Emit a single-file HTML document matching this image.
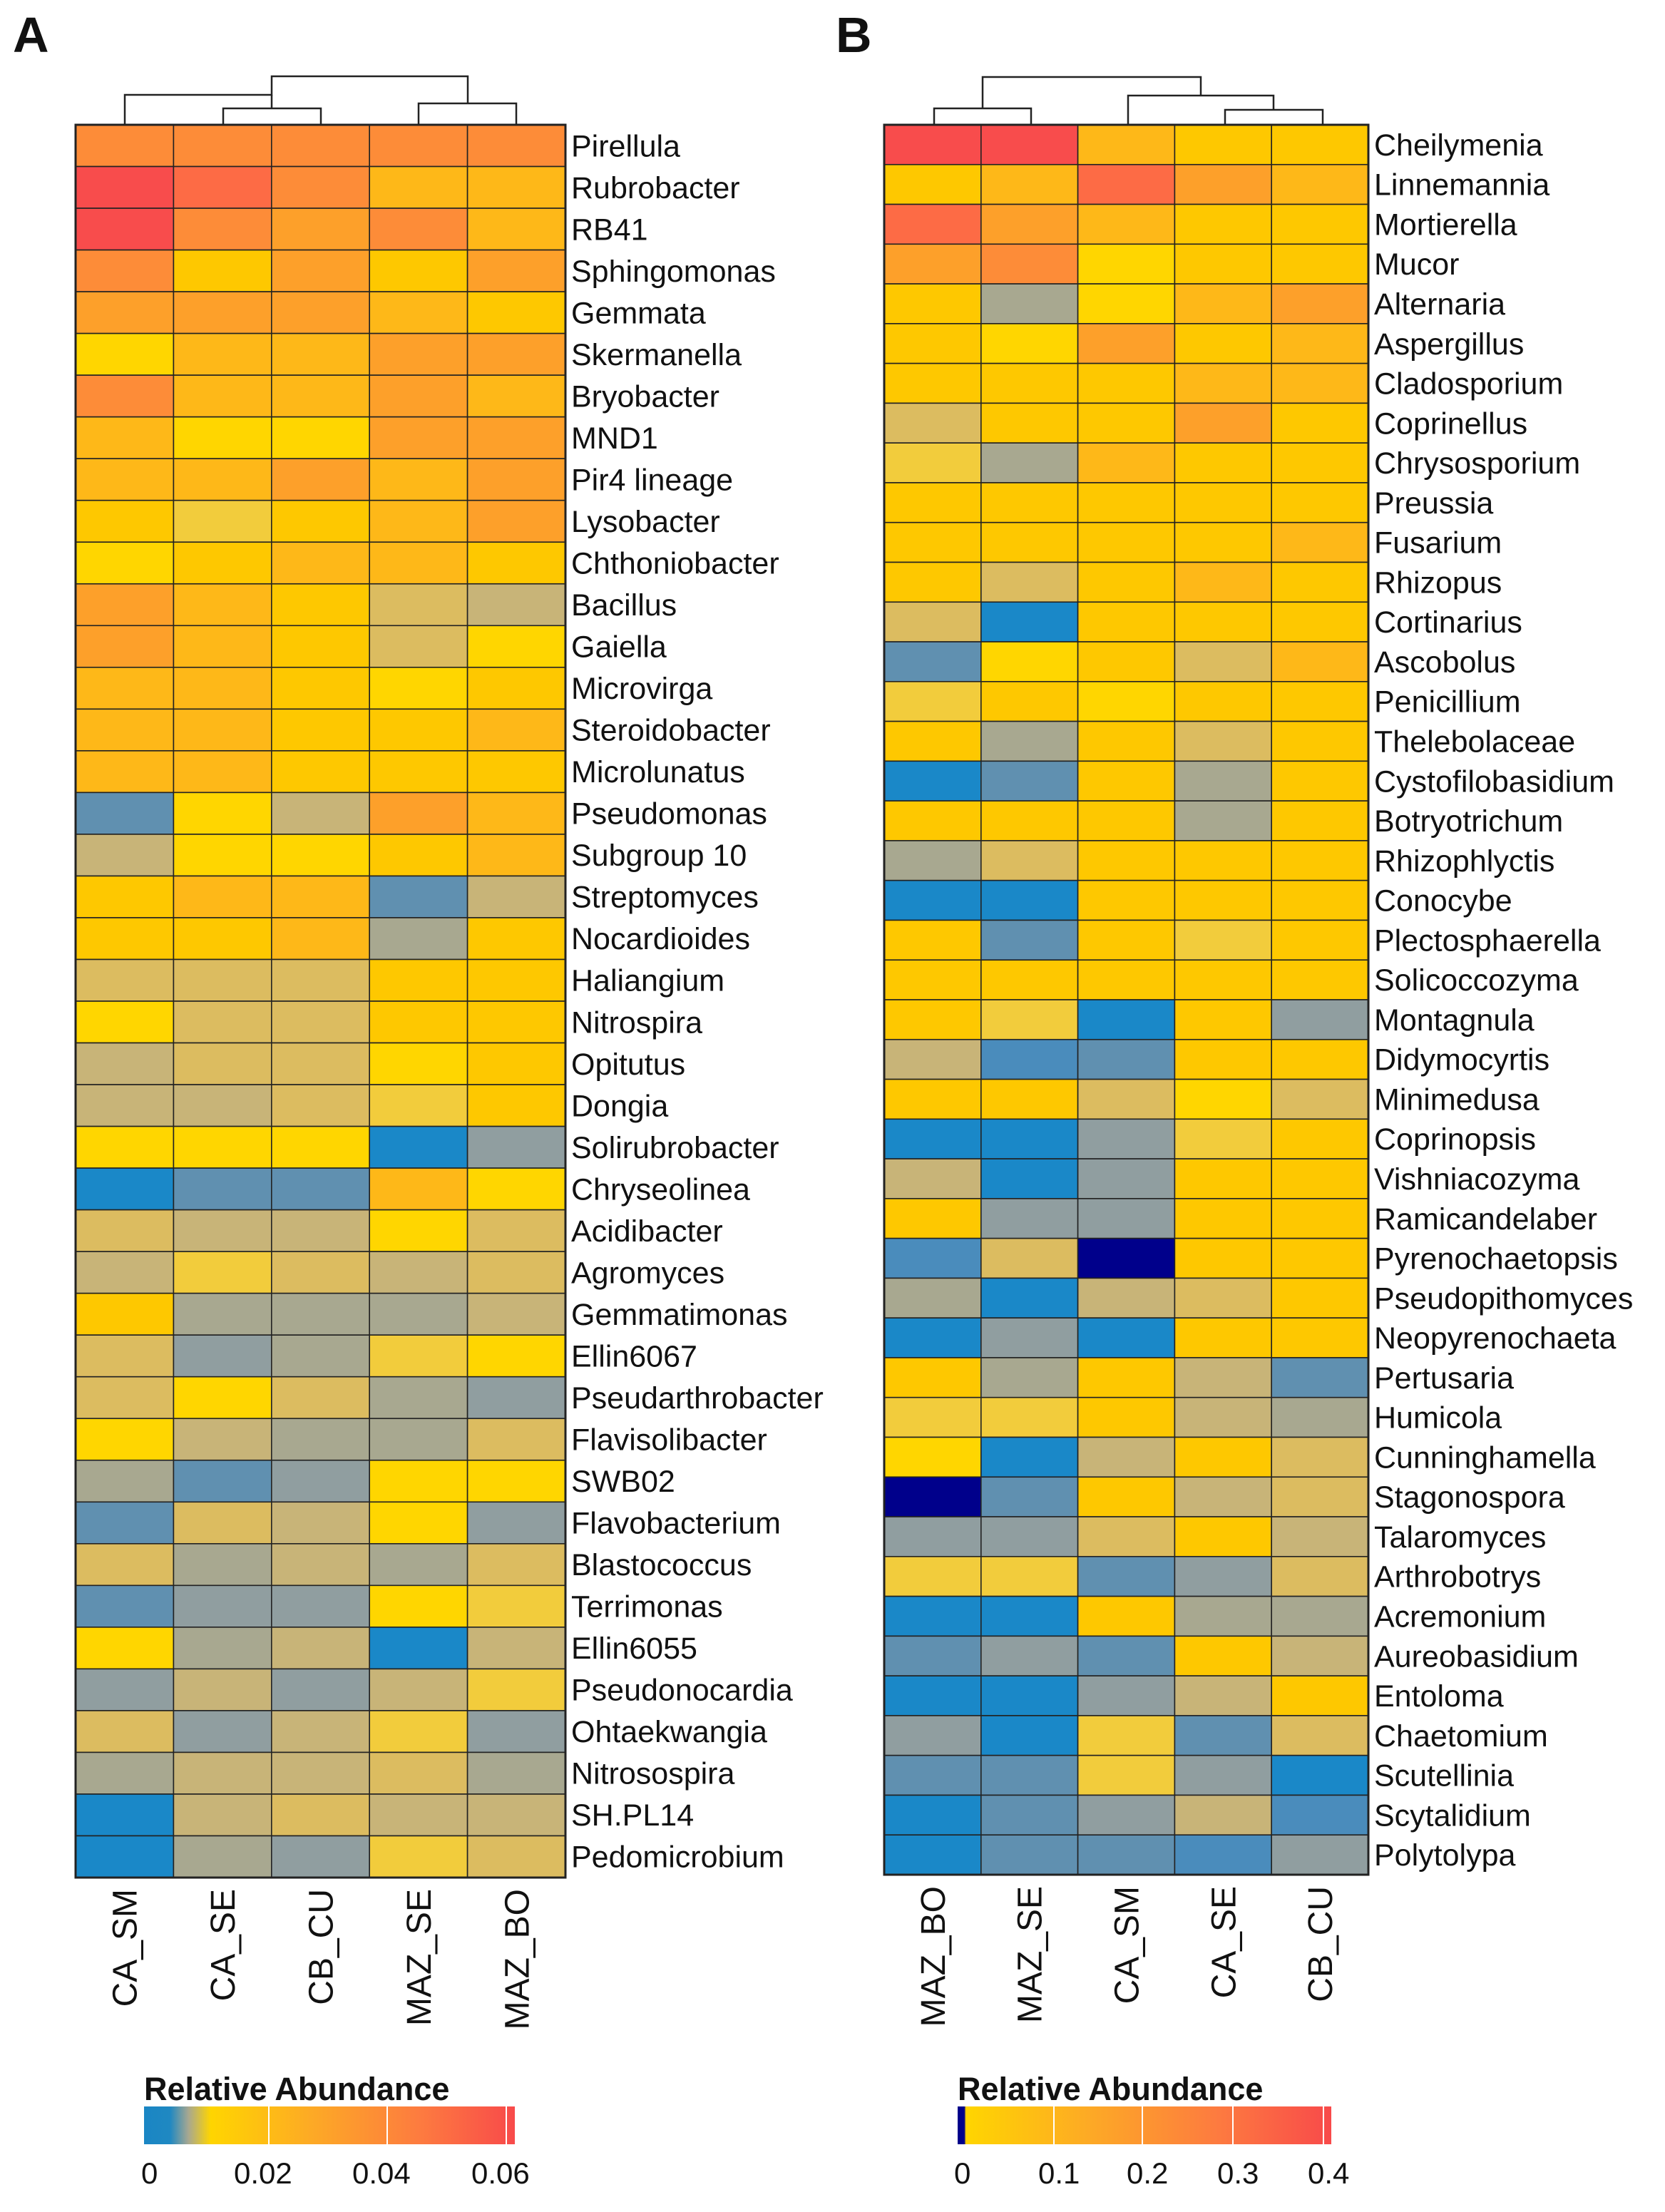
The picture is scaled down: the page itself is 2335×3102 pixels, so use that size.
<!DOCTYPE html>
<html><head><meta charset="utf-8"><style>
html,body{margin:0;padding:0;background:#fff;}
svg{display:block;}
text{font-family:"Liberation Sans",sans-serif;fill:#111;}
</style></head><body>
<svg id="s" width="2335" height="3102" xmlns="http://www.w3.org/2000/svg">
<defs>
<linearGradient id="gA" x1="0" x2="1" y1="0" y2="0">
<stop offset="0" stop-color="#1a86c4"/><stop offset="0.07" stop-color="#1f88c2"/>
<stop offset="0.12" stop-color="#a8a890"/><stop offset="0.18" stop-color="#ffd500"/>
<stop offset="0.45" stop-color="#fdaa25"/><stop offset="0.75" stop-color="#fd7a40"/>
<stop offset="1" stop-color="#f84a4a"/></linearGradient>
<linearGradient id="gB" x1="0" x2="1" y1="0" y2="0">
<stop offset="0" stop-color="#00008b"/><stop offset="0.018" stop-color="#00008b"/>
<stop offset="0.022" stop-color="#ffd500"/><stop offset="0.35" stop-color="#fdaa25"/>
<stop offset="0.7" stop-color="#fd7a40"/><stop offset="1" stop-color="#f84a4a"/></linearGradient>
</defs>
<text x="18" y="73" font-size="70" font-weight="bold">A</text>
<text x="1172" y="73" font-size="70" font-weight="bold">B</text>
<g fill="none" stroke="#222" stroke-width="2.5">
<path d="M175 175V133H381V107H656V145"/><path d="M313 175V152H450V175"/><path d="M381 133V152"/>
<path d="M587 175V145H724V175"/>
<path d="M1310 175V152H1446V175"/><path d="M1378 152V108H1684V134"/>
<path d="M1582 175V134H1786V154"/><path d="M1718 175V154H1855V175"/>
</g>
<g id="cells"></g>
<text x="202" y="2945" font-size="45" font-weight="bold">Relative Abundance</text>
<rect x="202" y="2954" width="520" height="53" fill="url(#gA)"/>
<g stroke="#fff" stroke-width="2"><path d="M377 2954v53M543 2954v53M710 2954v53"/></g>
<g font-size="42"><text x="198" y="3062">0</text><text x="328" y="3062">0.02</text><text x="494" y="3062">0.04</text><text x="661" y="3062">0.06</text></g>
<text x="1343" y="2945" font-size="45" font-weight="bold">Relative Abundance</text>
<rect x="1343" y="2954" width="524" height="53" fill="url(#gB)"/>
<g stroke="#fff" stroke-width="2"><path d="M1478 2954v53M1602 2954v53M1729 2954v53M1856 2954v53"/></g>
<g font-size="42"><text x="1338" y="3062">0</text><text x="1456" y="3062">0.1</text><text x="1580" y="3062">0.2</text><text x="1707" y="3062">0.3</text><text x="1834" y="3062">0.4</text></g>
</svg>
<script>
var C={R:"#f84c4c",r:"#fd6b45",O:"#fd8c38",o:"#fda02a",A:"#feb818",Y:"#fec800",y:"#ffd600",t:"#f2cc3c",T:"#dcbc60",K:"#c8b478",G:"#a8a890",g:"#909ea0",S:"#6090b0",s:"#4a8cbc",B:"#1a88c8",N:"#00008b"};
var A=[["Pirellula","OOOOO"],["Rubrobacter","RrOAA"],["RB41","ROoOA"],["Sphingomonas","OYoYo"],["Gemmata","oooAY"],["Skermanella","yAAoo"],["Bryobacter","OAAoA"],["MND1","Ayyoo"],["Pir4 lineage","AAoAo"],["Lysobacter","YtYAo"],["Chthoniobacter","yYAAY"],["Bacillus","oAYTK"],["Gaiella","oAYTy"],["Microvirga","AAYyY"],["Steroidobacter","AAYYA"],["Microlunatus","AAYYY"],["Pseudomonas","SyKoA"],["Subgroup 10","KyyYA"],["Streptomyces","YAASK"],["Nocardioides","YYAGY"],["Haliangium","TTTYY"],["Nitrospira","yTTYY"],["Opitutus","KTTyY"],["Dongia","KKTtY"],["Solirubrobacter","yyyBg"],["Chryseolinea","BSSAy"],["Acidibacter","TKKyT"],["Agromyces","KtTKT"],["Gemmatimonas","YGGGK"],["Ellin6067","TgGty"],["Pseudarthrobacter","TyTGg"],["Flavisolibacter","yKGGT"],["SWB02","GSgyy"],["Flavobacterium","STKyg"],["Blastococcus","TGKGT"],["Terrimonas","Sggyt"],["Ellin6055","yGKBK"],["Pseudonocardia","gKgKt"],["Ohtaekwangia","TgKtg"],["Nitrosospira","GKKTG"],["SH.PL14","BKTKK"],["Pedomicrobium","BGgtT"]];
var B=[["Cheilymenia","RRAYY"],["Linnemannia","YAroA"],["Mortierella","roAYY"],["Mucor","oOyYY"],["Alternaria","YGyAo"],["Aspergillus","YyoYA"],["Cladosporium","YYYAA"],["Coprinellus","TYYoY"],["Chrysosporium","tGAYY"],["Preussia","YYYYY"],["Fusarium","YYYYA"],["Rhizopus","YTYAY"],["Cortinarius","TBYYY"],["Ascobolus","SyYTA"],["Penicillium","tYyYY"],["Thelebolaceae","YGYTY"],["Cystofilobasidium","BSYGY"],["Botryotrichum","YYYGY"],["Rhizophlyctis","GTYYY"],["Conocybe","BBYYY"],["Plectosphaerella","YSYtY"],["Solicoccozyma","YYYYY"],["Montagnula","YtBYg"],["Didymocyrtis","KsSYY"],["Minimedusa","YYTyT"],["Coprinopsis","BBgtY"],["Vishniacozyma","KBgYY"],["Ramicandelaber","YggYY"],["Pyrenochaetopsis","sTNYY"],["Pseudopithomyces","GBKTY"],["Neopyrenochaeta","BgBYY"],["Pertusaria","YGYKS"],["Humicola","ttYKG"],["Cunninghamella","yBKYT"],["Stagonospora","NSYKT"],["Talaromyces","ggTYK"],["Arthrobotrys","ttSgT"],["Acremonium","BBYGG"],["Aureobasidium","SgSYK"],["Entoloma","BBgKY"],["Chaetomium","gBtST"],["Scutellinia","SStgB"],["Scytalidium","BSgKs"],["Polytolypa","BSSsg"]];
var NS="http://www.w3.org/2000/svg",g=document.getElementById("cells");
function el(t,a,txt){var e=document.createElementNS(NS,t);for(var k in a)e.setAttribute(k,a[k]);if(txt)e.textContent=txt;g.appendChild(e);}
function panel(d,x0,x1,y0,y1,cols){var n=d.length,cw=(x1-x0)/5,rh=(y1-y0)/n;
d.forEach(function(r,i){for(var j=0;j<5;j++)el("rect",{x:x0+j*cw,y:y0+i*rh,width:cw,height:rh,fill:C[r[1][j]],stroke:"#222","stroke-width":1.6});
el("text",{x:x1+8,y:y0+i*rh+rh/2+15,"font-size":43},r[0]);});
el("rect",{x:x0,y:y0,width:x1-x0,height:y1-y0,fill:"none",stroke:"#222","stroke-width":3});
cols.forEach(function(c,j){var cx=x0+cw*(j+0.5)+17,yb=y1+16;el("text",{x:cx,y:yb,"font-size":48,"text-anchor":"end",transform:"rotate(-90 "+cx+" "+yb+")"},c);});}
panel(A,106,793,175,2633,["CA_SM","CA_SE","CB_CU","MAZ_SE","MAZ_BO"]);
panel(B,1240,1919,175,2629,["MAZ_BO","MAZ_SE","CA_SM","CA_SE","CB_CU"]);
</script>
</body></html>
